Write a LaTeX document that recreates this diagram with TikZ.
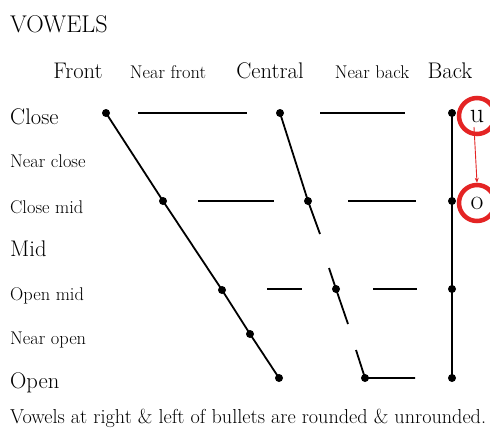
\documentclass[tikz,border=0pt]{standalone}
\usetikzlibrary{arrows.meta,calc}
\definecolor{ringred}{RGB}{228,36,36}
\begin{document}
\begin{tikzpicture}[x=1pt,y=-1pt,
  lbl/.style={anchor=west, inner sep=0pt, font=\fontsize{22.6}{26}\selectfont},
  sml/.style={anchor=west, inner sep=0pt, font=\fontsize{18.4}{22}\selectfont},
  hd/.style={inner sep=0pt, font=\fontsize{22.6}{26}\selectfont},
  hds/.style={inner sep=0pt, font=\fontsize{18.4}{22}\selectfont},
  dot/.style={circle, fill=black, inner sep=0pt, minimum size=8pt},
  ln/.style={line width=1.8pt},
  ring/.style={draw=ringred, line width=4.5pt, circle, minimum size=36pt, inner sep=0pt, font=\fontsize{28}{32}\selectfont},
  redarrow/.style={draw=ringred, line width=0.9pt, -{Stealth[length=5pt,width=4pt]}}]
\useasboundingbox[fill=white] (0,0) rectangle (490,436);

% titles
\node[lbl, font=\fontsize{24.2}{28}\selectfont] (title) at (10,24) {VOWELS};
\node[hd]  (hF)  at (78,71)  {Front};
\node[hds] (hNF) at (168,72) {Near front};
\node[hd]  (hC)  at (270,71) {Central};
\node[hds] (hNB) at (372,72) {Near back};
\node[hd]  (hB)  at (450,71) {Back};

\node[lbl] (rClose)  at (10,117) {Close};
\node[sml] (rNClose) at (10,161) {Near close};
\node[sml] (rCMid)   at (10,207) {Close mid};
\node[lbl] (rMid)    at (10,249) {Mid};
\node[sml] (rOMid)   at (10,296) {Open mid};
\node[sml] (rNOpen)  at (10,340) {Near open};
\node[lbl] (rOpen)   at (10,383) {Open};

\node[anchor=west, inner sep=0pt, font=\fontsize{20.2}{24}\selectfont] (foot) at (10,418)
  {Vowels at right \& left of bullets are rounded \& unrounded.};

% dots
\node[dot] (F1) at (106,113) {};
\node[dot] (F3) at (163,201) {};
\node[dot] (F5) at (222,290) {};
\node[dot] (F6) at (250,334) {};
\node[dot] (F7) at (279,378) {};
\node[dot] (C1) at (280,113) {};
\node[dot] (C3) at (308,201) {};
\node[dot] (C5) at (336,289) {};
\node[dot] (C7) at (365,378) {};
\node[dot] (B1) at (452,113) {};
\node[dot] (B3) at (452,201) {};
\node[dot] (B5) at (452,289) {};
\node[dot] (B7) at (452,378) {};

% free ends
\coordinate (cA) at (320,234);
\coordinate (cB) at (329,268);
\coordinate (cC) at (348,324);
\coordinate (cD) at (356,350);
\coordinate (cE) at (415,378);
\coordinate (d1a) at (138,113); \coordinate (d1b) at (247,113);
\coordinate (d2a) at (320,113); \coordinate (d2b) at (405,113);
\coordinate (d3a) at (198,201); \coordinate (d3b) at (274,201);
\coordinate (d4a) at (348,201); \coordinate (d4b) at (416,201);
\coordinate (d5a) at (267,289); \coordinate (d5b) at (302,289);
\coordinate (d6a) at (373,289); \coordinate (d6b) at (417,289);

% lines
\draw[ln] (F1.center) -- (F3.center) -- (F5.center) -- (F6.center) -- (F7.center);
\draw[ln] (C1.center) -- (C3.center) -- (cA);
\draw[ln] (cB) -- (C5.center) -- (cC);
\draw[ln] (cD) -- (C7.center) -- (cE);
\draw[ln] (B1.center) -- (B3.center) -- (B5.center) -- (B7.center);
\foreach \i in {1,...,6} \draw[ln] (d\i a) -- (d\i b);

% rings
\node[ring] (ru) at (477,116) {u};
\node[ring] (ro) at (477,203) {o};
\coordinate (arS) at ($(ru.center)+(-3,11)$);
\draw[redarrow] (arS) -- (ro.north);
\end{tikzpicture}
\end{document}
